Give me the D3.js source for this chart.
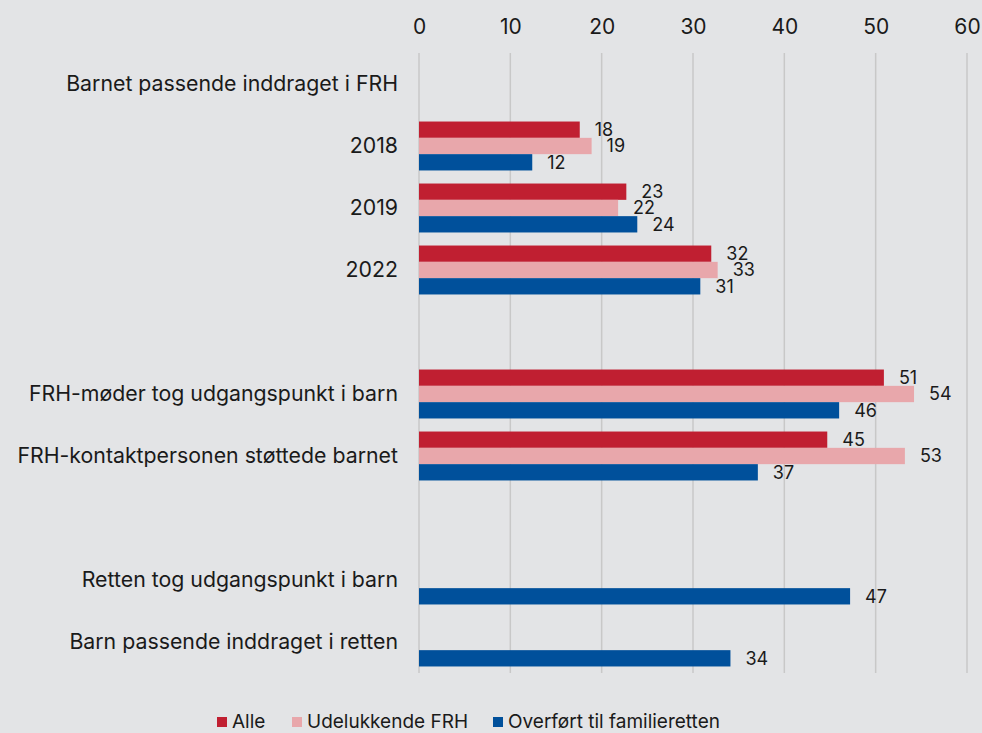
<!DOCTYPE html>
<html>
<head>
<meta charset="utf-8">
<script src="https://cdn.jsdelivr.net/npm/d3@7"></script>
<style>
  body { margin: 0; background: #e3e4e6; }
  svg { display: block; font-family: Inter, "Noto Sans", sans-serif; }
</style>
</head>
<body>
<svg id="chart" width="982" height="733"></svg>
<script>
// Row labels (top to bottom); empty strings are spacer rows
const categories = [
  "Barnet passende inddraget i FRH", "2018", "2019", "2022", "",
  "FRH-møder tog udgangspunkt i barn", "FRH-kontaktpersonen støttede barnet", "",
  "Retten tog udgangspunkt i barn", "Barn passende inddraget i retten"
];
const seriesNames = ["Alle", "Udelukkende FRH", "Overført til familieretten"];
const alle      = [null, 17.6, 22.7, 32.0, null, 50.9, 44.7, null, null, null];
const udelukket = [null, 18.9, 21.8, 32.7, null, 54.2, 53.2, null, null, null];
const overfoert = [null, 12.4, 23.9, 30.8, null, 46.0, 37.1, null, 47.2, 34.1];
const xTicks = [0, 10, 20, 30, 40, 50, 60];

const colors = ["#c01f31", "#e8a7ab", "#00509b"];
const seriesValues = [alle, udelukket, overfoert];

const svg = d3.select("#chart");
const margin = {left: 419, right: 15, top: 53, bottom: 60};
const W = 982, H = 733;

const x = d3.scaleLinear().domain([0, 60]).range([margin.left, W - margin.right]);
const y = d3.scaleBand().domain(d3.range(categories.length)).range([margin.top, H - margin.bottom]);
const ySub = d3.scaleBand().domain(d3.range(3)).range([0, y.bandwidth()]).paddingOuter(0.4);

// gridlines
svg.append("g")
  .selectAll("line")
  .data(xTicks)
  .join("line")
  .attr("x1", d => x(d)).attr("x2", d => x(d))
  .attr("y1", margin.top).attr("y2", H - margin.bottom)
  .attr("stroke", "#c8c8c8")
  .attr("stroke-width", 1.5);

// top axis labels
const xAxis = svg.append("g")
  .attr("transform", "translate(0,34)")
  .call(d3.axisTop(x).tickValues(xTicks).tickSize(0).tickPadding(0));
xAxis.select(".domain").remove();
xAxis.selectAll(".tick text")
  .style("font-family", "Inter, 'Noto Sans', sans-serif")
  .style("font-size", "21px")
  .style("fill", "#1a1a1a");

// category labels
svg.append("g")
  .selectAll("text")
  .data(categories)
  .join("text")
  .attr("x", margin.left - 21)
  .attr("y", (d, i) => y(i) + y.bandwidth() / 2)
  .attr("dy", "0.35em")
  .attr("text-anchor", "end")
  .style("font-size", "21.3px")
  .style("fill", "#1a1a1a")
  .text(d => d);

// bars
const bars = [];
seriesValues.forEach((vals, s) => {
  vals.forEach((v, i) => {
    if (v != null) bars.push({s, i, v});
  });
});

svg.append("g")
  .selectAll("rect")
  .data(bars)
  .join("rect")
  .attr("x", x(0))
  .attr("y", d => y(d.i) + ySub(d.s))
  .attr("width", d => x(d.v) - x(0))
  .attr("height", ySub.bandwidth())
  .attr("fill", d => colors[d.s]);

svg.append("g")
  .selectAll("text")
  .data(bars)
  .join("text")
  .attr("x", d => x(d.v) + 15)
  .attr("y", d => y(d.i) + ySub(d.s) + ySub.bandwidth() / 2)
  .attr("dy", "0.35em")
  .style("font-size", "18px")
  .style("fill", "#1a1a1a")
  .text(d => d3.format(".0f")(d.v));

// legend
const legendX = [217, 292, 493];
const legend = svg.append("g")
  .selectAll("g")
  .data(seriesNames)
  .join("g")
  .attr("transform", (d, i) => `translate(${legendX[i]},721)`);
legend.append("rect")
  .attr("x", 0).attr("y", -4)
  .attr("width", 10).attr("height", 10)
  .attr("fill", (d, i) => colors[i]);
legend.append("text")
  .attr("x", 15)
  .attr("dy", "0.35em")
  .style("font-size", "19px")
  .style("fill", "#1a1a1a")
  .text(d => d);
</script>
</body>
</html>
